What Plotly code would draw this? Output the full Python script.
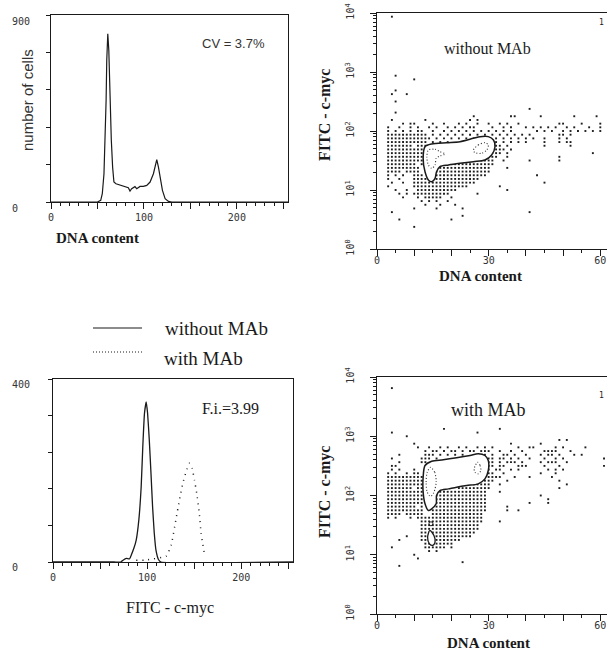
import plotly.graph_objects as go

W, H = 607, 658

# ---------------- data: DNA histogram (top-left) ----------------
dna_x = [0, 20, 50, 53.5, 55.2, 57, 58.2, 59.3, 60, 61.1, 62.2, 63.4, 64.9, 66.3, 67.7, 69.9,
         74.2, 79.6, 83.2, 85, 86.8, 90.3, 92.2, 95.8, 99.4, 103, 106.6, 110.2, 112, 113.8,
         115.6, 117.4, 119.9, 122.8, 126.4, 130, 255]
dna_n = [0, 0, 0, 8, 40, 136, 297, 490, 683, 810, 730, 506, 297, 168, 96, 88,
         83, 75, 69, 53, 64, 74, 64, 75, 75, 80, 96, 136, 168, 204,
         168, 112, 56, 16, 3, 0, 0]

# ---------------- data: FITC histograms (bottom-left) ----------------
fitc_x_without = [0, 65, 72, 74.4, 77.9, 81.4, 83.1, 85.9, 88.4, 91.2, 93.7, 95.4, 97.2, 99,
                  100.5, 102.3, 104.1, 105.8, 107.6, 109.4, 112.2, 114.7, 255]
fitc_n_without = [0, 0, 0, 4, 8, 7, 15, 30, 48, 92, 165, 252, 325, 350,
                  325, 267, 194, 121, 63, 26, 5, 0, 0]
fitc_x_with = [88.4, 97.2, 120.3, 125.6, 130.8, 134.3, 137.9, 141.4, 144.9, 147.8, 150.3,
               152.7, 155.5, 157.3, 160.8]
fitc_n_with = [4, 4, 13, 37, 95, 135, 172, 197, 216, 205, 179, 150, 106, 63, 19]

# ---------------- data: dot plots (64 x 64 channel grid) ----------------
# key = FITC channel (16 channels per decade), value = occupied DNA channels
dots_without = {
    63: "4", 47: "5", 46: "10", 43: "5", 42: "4 8", 40: "5", 38: "41", 37: "5",
    36: "26 36 37 44 53 59",
    35: "4 13 25 27",
    34: "7 9 10 15 18 22 24 27 30 33 35 38 49 50 55 60",
    33: "3 6 9 11 14 16 19 21 23 25 26 31 34 36 40 42 44 46 48 51 53 57 60",
    32: "3 5 7 9 11 12 15 18 20 22 24 26 28 30 32 34 36 43 45 47 50 52 54 56 58 60",
    31: "3-13 15 17 19 21 23 25 27 29 31 33 35 37 39 41 49 50 52",
    30: "3-13 14 16 18 20 22 24 26 30 32 34 36 38 40 42 45 49 51",
    29: "3-13 15 17 19 32 34 36 38 40 45 49 51 52",
    28: "3-9 11-13 31 32 33 35 45 52",
    27: "3-13 31-33 34 36",
    26: "3-12 30-33 35 58",
    25: "3-13 29-32 35 49",
    24: "3-13 22-31 34 41 49",
    23: "3-10 12 16-31",
    22: "3-11 16-30 35",
    21: "3-6 8-11 16-30",
    20: "3 5 7 10-12 16-29 43",
    19: "3 6 10-27",
    18: "4 7 10-26 45",
    17: "3 10-24 33",
    16: "5 8 11-21 35",
    15: "6 8 10-19 27",
    14: "7 11 13-17 20",
    13: "12 14 16 19",
    12: "13 17 21",
    11: "10 16 23",
    10: "4 41", 9: "23", 8: "6 20", 6: "10",
}
dots_with = {
    61: "4", 50: "18 33", 49: "4 27", 48: "8", 47: "49 51", 46: "10 36 44",
    45: "11 14 17 19 22 24 27 29 31 38 41 42 48 50 56",
    44: "13 15 16 18 20 21 23 25 26 28 29 30 33 36 39 45 46 47 48 52",
    43: "6 13 14 15 17 19 21 23 27 29 31 34 35 37 40 44 46 47 49 53 55",
    42: "4 12 13 14 16 30 31 33 34 36 38 41 45 48 50 61",
    41: "6 12 13 30 31 33 35 36 37 39 44 46 47 48 51",
    40: "4 5 30 31 33 34 38 39 40 45 49 61",
    39: "4 6 10 30 32 33 36 38 46 48 50",
    38: "3 5 8 10 11 30 31 34 44 48",
    37: "3-12 29-32 33 37 41 47",
    36: "3-12 28-31 35 49",
    35: "3-12 26-30 33 51",
    34: "3-9 11 12 22-30 49",
    33: "3-12 16-29 33",
    32: "3-12 16-29 44",
    31: "3-12 16-29 46",
    30: "3-12 16-29 41 46",
    29: "3-10 12 16-29 35",
    28: "3-12 15-29 35 38",
    27: "3-6 8-12 15-28",
    26: "3 5 9 11-28",
    25: "12-28 33",
    24: "12-27",
    23: "12-27",
    22: "12-26",
    21: "8 12-25",
    20: "6 12-22",
    19: "13-20",
    18: "4 13-18 20",
    17: "14 16", 16: "10", 15: "11", 14: "23", 13: "6",
}

# ---------------- data: contours ----------------
top_outer_x = [12.9, 14.7, 18.7, 22.3, 25.9, 27.7, 29.9, 31.3, 31.7, 30.8, 29.0, 25.9, 22.3,
               19.2, 16.9, 16.0, 15.6, 14.7, 13.8, 12.9, 12.4, 12.9]
top_outer_y = [54.2, 60.3, 63.4, 65.9, 75.2, 80.2, 80.2, 70.3, 54.2, 39.2, 32.2, 30.2, 28.3,
               26.5, 24.8, 20.4, 15.8, 13.8, 14.8, 20.4, 34.4, 54.2]
top_inner1_x = [13.8, 15.6, 16.9, 18.3, 16.9, 15.9, 15.6, 14.7, 13.8, 13.4, 13.8]
top_inner1_y = [47.6, 48.9, 44.7, 40.7, 37.7, 34.4, 26.5, 23.3, 26.5, 36.7, 47.6]
top_inner2_x = [25.9, 27.2, 29.0, 29.9, 29.5, 28.1, 26.3, 25.9]
top_inner2_y = [47.6, 57.9, 63.4, 57.9, 47.6, 41.9, 43.0, 47.6]

bot_outer_x = [12.9, 14.7, 17.8, 21.4, 25.0, 27.2, 29.0, 29.9, 29.9, 29.0, 27.2, 24.1, 21.4,
               19.2, 16.9, 16.0, 15.9, 14.7, 13.8, 12.9, 12.4, 12.4, 12.9]
bot_outer_y = [320.6, 379.3, 399.9, 432.5, 473.2, 504.7, 473.2, 389.0, 264.2, 191.0, 157.4,
               147.6, 138.0, 129.4, 121.3, 100.0, 72.4, 59.7, 55.8, 72.4, 113.8, 203.7, 320.6]
bot_inner1_x = [14.4, 15.5, 15.9, 15.3, 14.4, 13.5, 13.2, 13.5, 14.4]
bot_inner1_y = [299.9, 247.2, 167.5, 113.8, 96.2, 113.8, 167.5, 247.2, 299.9]
bot_inner2_x = [27.0, 27.7, 27.9, 27.2, 26.3, 26.1, 27.0]
bot_inner2_y = [364.8, 320.6, 264.2, 232.3, 247.2, 281.8, 364.8]
bot_small_x = [14.2, 15.3, 15.6, 15.0, 14.1, 13.6, 14.2]
bot_small_y = [25.7, 21.1, 16.3, 14.4, 15.3, 19.8, 25.7]
bot_tiny_x = [14.5]
bot_tiny_y = [33.3]

# tick labels
NB = "\u00a0"
hist_x_ticks = [0, 50, 100, 150, 200, 250]
hist_x_text = ["0", "", "100", "", "200", ""]
dna_y_ticks = [0, 180, 360, 540, 720, 900]
dna_y_text = ["0" + NB * 2, "", "", "", "", "900"]
fitc_y_ticks = [0, 80, 160, 240, 320, 400]
fitc_y_text = ["0" + NB * 2, "", "", "", "", "400"]
dot_x_ticks = [0, 10, 20, 30, 40, 50, 60]
dot_x_text = ["0", "", "", "30", "", "", "60"]
dot_y_ticks = [1, 10, 100, 1000, 10000]
dot_y_text = ["10<sup>0</sup>", "10<sup>1</sup>", "10<sup>2</sup>", "10<sup>3</sup>", "10<sup>4</sup>"]


def cells(rows):
    xs, ys = [], []
    for ch, spec in rows.items():
        for tok in spec.split():
            if "-" in tok:
                a, b = tok.split("-")
                cols = range(int(a), int(b) + 1)
            else:
                cols = [int(tok)]
            for c in cols:
                xs.append(c)
                ys.append(10 ** (ch / 16))
    return xs, ys


SERIF = "Liberation Serif"
SANS = "Liberation Sans"
MONO = "DejaVu Sans Mono"
INK = "#1a1a1a"

fig = go.Figure()

fig.add_trace(go.Scatter(x=dna_x, y=dna_n, mode="lines", line=dict(color=INK, width=1.2),
                         xaxis="x", yaxis="y", showlegend=False))
fig.add_trace(go.Scatter(x=fitc_x_without, y=fitc_n_without, mode="lines",
                         line=dict(color=INK, width=1.3, shape="spline", smoothing=0.4),
                         xaxis="x3", yaxis="y3", showlegend=False))
fig.add_trace(go.Scatter(x=fitc_x_with, y=fitc_n_with, mode="lines",
                         line=dict(color=INK, width=1.5, dash="1px,5px", shape="spline", smoothing=0.4),
                         xaxis="x3", yaxis="y3", showlegend=False))


def add_dotplot(rows, xa, ya, outer, inners, solids):
    dx_, dy_ = cells(rows)
    fig.add_trace(go.Scatter(x=dx_, y=dy_, mode="markers", xaxis=xa, yaxis=ya,
                             marker=dict(symbol="square", size=1.9, color="#1e1e1e", line=dict(width=0)),
                             showlegend=False))
    fig.add_trace(go.Scatter(x=outer[0], y=outer[1], mode="lines", fill="toself",
                             fillcolor="white", xaxis=xa, yaxis=ya,
                             line=dict(color=INK, width=1.5, shape="spline", smoothing=0.8),
                             showlegend=False))
    for sx, sy in solids:
        fig.add_trace(go.Scatter(x=sx, y=sy, mode="lines", fill="toself", fillcolor="white",
                                 xaxis=xa, yaxis=ya,
                                 line=dict(color=INK, width=1.3, shape="spline", smoothing=0.8),
                                 showlegend=False))
    for ix, iy in inners:
        fig.add_trace(go.Scatter(x=ix, y=iy, mode="lines", xaxis=xa, yaxis=ya,
                                 line=dict(color="#333", width=1.1, dash="1px,2px",
                                           shape="spline", smoothing=0.8),
                                 showlegend=False))


add_dotplot(dots_without, "x2", "y2", (top_outer_x, top_outer_y),
            [(top_inner1_x, top_inner1_y), (top_inner2_x, top_inner2_y)], [])
add_dotplot(dots_with, "x4", "y4", (bot_outer_x, bot_outer_y),
            [(bot_inner1_x, bot_inner1_y), (bot_inner2_x, bot_inner2_y)],
            [(bot_small_x, bot_small_y)])
fig.add_trace(go.Scatter(x=bot_tiny_x, y=bot_tiny_y, mode="markers", xaxis="x4", yaxis="y4",
                         marker=dict(symbol="circle-open", size=4, color=INK, line=dict(width=1)),
                         showlegend=False))


def dx(a, b):
    return [a / W, b / W]


def dy(top, bottom):
    return [1 - bottom / H, 1 - top / H]


tickfont = dict(family=MONO, size=10, color="#333")
base = dict(showline=True, linecolor=INK, linewidth=1, showgrid=False, zeroline=False,
            ticks="outside", tickcolor=INK, tickwidth=1, tickfont=tickfont, fixedrange=True,
            automargin=False)

hist_x = dict(base, range=[0, 255], tickmode="array", tickvals=hist_x_ticks, ticktext=hist_x_text,
              ticklen=6, mirror=True,
              minor=dict(dtick=10, ticks="outside", ticklen=3, tickcolor=INK, showgrid=False))
dot_x = dict(base, range=[0, 61.8], tickmode="array", tickvals=dot_x_ticks, ticktext=dot_x_text,
             ticklen=6, mirror=True, ticklabelstandoff=-4,
             minor=dict(dtick=5, ticks="outside", ticklen=3, tickcolor=INK, showgrid=False))
dot_y = dict(base, type="log", range=[0, 4], tickmode="array", tickvals=dot_y_ticks,
             ticktext=dot_y_text, ticklen=6, tickangle=-90, ticklabelstandoff=12,
             minor=dict(dtick="D1", ticks="outside", ticklen=3, tickcolor=INK, showgrid=False))

fig.update_layout(
    width=W, height=H, margin=dict(l=0, r=0, t=0, b=0, autoexpand=False),
    paper_bgcolor="white", plot_bgcolor="white", showlegend=False,
    xaxis=dict(hist_x, domain=dx(51, 288), anchor="y"),
    yaxis=dict(base, domain=dy(15, 202), anchor="x", range=[0, 900], tickmode="array",
               tickvals=dna_y_ticks, ticktext=dna_y_text, ticklen=4, mirror=True,
               ticklabelstandoff=14, ticklabelshift=6),
    xaxis2=dict(dot_x, domain=dx(377, 607), anchor="y2"),
    yaxis2=dict(dot_y, domain=dy(13, 249), anchor="x2"),
    xaxis3=dict(hist_x, domain=dx(53, 293), anchor="y3"),
    yaxis3=dict(base, domain=dy(379, 562), anchor="x3", range=[0, 400], tickmode="array",
                tickvals=fitc_y_ticks, ticktext=fitc_y_text, ticklen=4, mirror=True,
                ticklabelstandoff=16, ticklabelshift=5),
    xaxis4=dict(dot_x, domain=dx(377, 607), anchor="y4"),
    yaxis4=dict(dot_y, domain=dy(377, 614), anchor="x4"),
)


def ann(text, px, py, size, family=SERIF, angle=0, xanchor="center", color=INK):
    fig.add_annotation(text=text, x=px / W, y=1 - py / H, xref="paper", yref="paper",
                       showarrow=False, textangle=angle, xanchor=xanchor, yanchor="middle",
                       font=dict(family=family, size=size, color=color))


ann("number of cells", 28, 100, 15, SANS, -90, color="#333")
ann("CV = 3.7%", 233, 43, 13, SANS, color="#333")
ann("<b>DNA content</b>", 98, 238, 15)
ann("<b>FITC - c-myc</b>", 325, 115, 16, angle=-90)
ann("without MAb", 487, 48, 16)
ann("<b>DNA content</b>", 480, 276, 15)
ann("without MAb", 163, 328, 19, xanchor="left")
ann("with MAb", 162, 358, 19, xanchor="left")
ann("F.i.=3.99", 230, 408, 16)
ann("FITC - c-myc", 170, 608, 16)
ann("<b>FITC - c-myc</b>", 325, 492, 16, angle=-90)
ann("with MAb", 488, 410, 18)
ann("<b>DNA content</b>", 488, 643, 15)
ann("1", 601, 22, 8, MONO)
ann("1", 601, 395, 8, MONO)

fig.add_shape(type="line", xref="paper", yref="paper", x0=93 / W, x1=142 / W,
              y0=1 - 328 / H, y1=1 - 328 / H, line=dict(color=INK, width=1.2))
fig.add_shape(type="line", xref="paper", yref="paper", x0=93 / W, x1=142 / W,
              y0=1 - 352 / H, y1=1 - 352 / H, line=dict(color=INK, width=1.2, dash="1px,2px"))

fig.write_html("out.html", config={"displayModeBar": False, "staticPlot": True},
               post_script="document.body.style.margin='0px';document.body.style.overflow='hidden';")
